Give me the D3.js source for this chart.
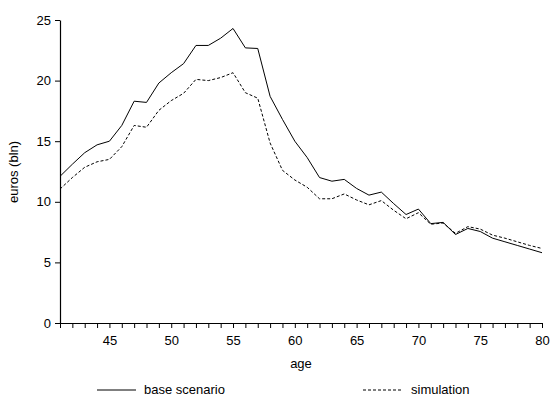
<!DOCTYPE html>
<html>
<head>
<meta charset="utf-8">
<script src="https://cdn.jsdelivr.net/npm/d3@7"></script>
<style>
  body { margin: 0; background: #fff; }
  text { font-family: "Liberation Sans", Arial, sans-serif; }
</style>
</head>
<body>
<script>
// ages 41..80
var ages = [41,42,43,44,45,46,47,48,49,50,51,52,53,54,55,56,57,58,59,60,
            61,62,63,64,65,66,67,68,69,70,71,72,73,74,75,76,77,78,79,80];

var baseScenario = [12.1,13.1,14.05,14.7,15.0,16.3,18.3,18.2,19.8,20.65,
                    21.4,22.9,22.9,23.5,24.3,22.7,22.65,18.7,16.8,15.0,
                    13.65,12.0,11.7,11.85,11.1,10.55,10.8,9.85,8.95,9.4,
                    8.2,8.3,7.3,7.8,7.55,7.0,6.7,6.4,6.1,5.8];

var simulation = [11.05,12.0,12.85,13.3,13.5,14.55,16.3,16.15,17.55,18.35,
                  18.95,20.1,20.0,20.25,20.65,19.0,18.55,14.85,12.6,11.8,
                  11.2,10.25,10.25,10.65,10.15,9.75,10.1,9.3,8.6,9.1,
                  8.15,8.25,7.4,7.95,7.75,7.25,7.0,6.7,6.4,6.15];

var xTickLabels = [45,50,55,60,65,70,75,80];
var yTickLabels = [0,5,10,15,20,25];

// Define SVG area dimensions
var svgWidth = 552;
var svgHeight = 398;

var margin = { top: 20, right: 10, bottom: 75, left: 60 };
var chartWidth = 542 - margin.left;
var chartHeight = 323 - margin.top;

var svg = d3.select("body")
  .append("svg")
  .attr("width", svgWidth)
  .attr("height", svgHeight);

var chartGroup = svg.append("g")
  .attr("transform", `translate(${margin.left}, ${margin.top})`);

var xScale = d3.scaleLinear()
  .domain([41, 80])
  .range([0, chartWidth]);

var yScale = d3.scaleLinear()
  .domain([0, 25])
  .range([chartHeight, 0]);

// y axis
var leftAxis = d3.axisLeft(yScale)
  .tickValues(yTickLabels)
  .tickSize(5)
  .tickPadding(4)
  .tickSizeOuter(0);

var yAxisG = chartGroup.append("g").call(leftAxis);

// x axis: minor ticks every year, labels every 5
var bottomAxis = d3.axisBottom(xScale)
  .tickValues(ages)
  .tickSize(5)
  .tickPadding(8)
  .tickSizeOuter(0)
  .tickFormat(d => xTickLabels.indexOf(d) >= 0 ? d : "");

var xAxisG = chartGroup.append("g")
  .attr("transform", `translate(0, ${chartHeight})`)
  .call(bottomAxis);

[yAxisG, xAxisG].forEach(function(g) {
  g.select(".domain").attr("stroke", "#000").attr("stroke-width", 1.2);
  g.selectAll(".tick line").attr("stroke", "#000");
  g.selectAll("text")
    .attr("fill", "#000")
    .style("font-size", "13px")
    .style("font-family", "'Liberation Sans', Arial, sans-serif");
});

// lines
var lineBase = d3.line()
  .x((d, i) => xScale(ages[i]))
  .y(d => yScale(d));

chartGroup.append("path")
  .datum(baseScenario)
  .attr("d", lineBase)
  .attr("fill", "none")
  .attr("stroke", "#000")
  .attr("stroke-width", 1);

chartGroup.append("path")
  .datum(simulation)
  .attr("d", lineBase)
  .attr("fill", "none")
  .attr("stroke", "#000")
  .attr("stroke-width", 1)
  .attr("stroke-dasharray", "3,2");

// axis titles
svg.append("text")
  .attr("x", margin.left + chartWidth / 2)
  .attr("y", 368)
  .attr("text-anchor", "middle")
  .style("font-size", "13px")
  .text("age");

svg.append("text")
  .attr("transform", "translate(18, 172) rotate(-90)")
  .attr("text-anchor", "middle")
  .style("font-size", "13px")
  .text("euros (bln)");

// legend
var legend = svg.append("g");
legend.append("line")
  .attr("x1", 97).attr("x2", 136)
  .attr("y1", 390).attr("y2", 390)
  .attr("stroke", "#000");
legend.append("text")
  .attr("x", 144).attr("y", 394)
  .style("font-size", "13px")
  .text("base scenario");
legend.append("line")
  .attr("x1", 363).attr("x2", 402)
  .attr("y1", 390).attr("y2", 390)
  .attr("stroke", "#000")
  .attr("stroke-dasharray", "3,2");
legend.append("text")
  .attr("x", 411).attr("y", 394)
  .style("font-size", "13px")
  .text("simulation");
</script>
</body>
</html>
